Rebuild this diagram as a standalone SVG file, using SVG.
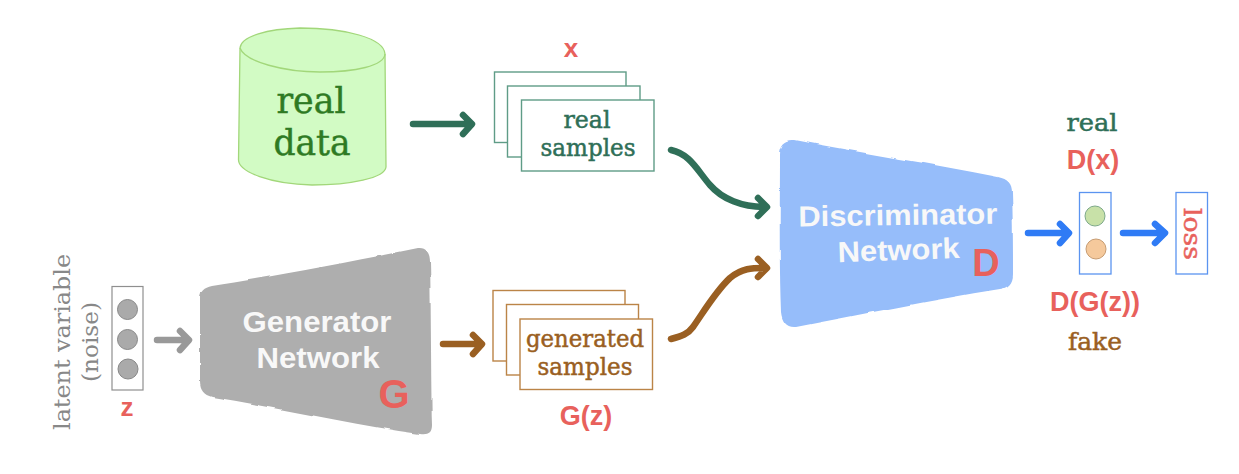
<svg xmlns="http://www.w3.org/2000/svg" width="1239" height="474" viewBox="0 0 1239 474">
<defs>
<filter id="rough" x="-5%" y="-5%" width="110%" height="110%">
<feTurbulence type="fractalNoise" baseFrequency="0.035" numOctaves="2" seed="4"/>
<feDisplacementMap in="SourceGraphic" scale="4" xChannelSelector="R" yChannelSelector="G"/>
</filter>
</defs>
<style>
.t{font-family:"DejaVu Serif","Liberation Serif",serif;text-anchor:middle;font-stretch:condensed;stroke-width:.45px;paint-order:stroke}
.s{font-family:"Liberation Sans",Arial,sans-serif;font-weight:700;text-anchor:middle}
.r{fill:#e8615c}
.w{fill:#f8f8f8}
.gr{fill:#2f6f58;stroke:#2f6f58}
.br{fill:#9a5f22;stroke:#9a5f22}
.a{fill:none;stroke-width:6.500;stroke-linecap:round;stroke-linejoin:round}
.card-g{fill:#fff;stroke:#5f9c87;stroke-width:1.400}
.card-b{fill:#fff;stroke:#bb8447;stroke-width:1.400}
</style>
<g id="real-data">
<path d="M240 48C241 36 268 29 300 28C345 28 384 38 385 54L386 167C385 178 350 185 312 185C270 184 239 172 238.500 160Z" fill="#d2fbc4" stroke="#a2d77a" stroke-width="1.300"/>
<path d="M240 48C245 62 285 72 320 72C355 72 384 66 385 54" fill="none" stroke="#a2d77a" stroke-width="1.300"/>
<text class="t" x="311" y="113" font-size="35" fill="#2e7a23" stroke="#2e7a23" textLength="69" lengthAdjust="spacingAndGlyphs">real</text>
<text class="t" x="312" y="155" font-size="35" fill="#2e7a23" stroke="#2e7a23" textLength="77" lengthAdjust="spacingAndGlyphs">data</text>
</g>
<g id="real-samples">
<rect class="card-g" x="494.500" y="72" width="131.500" height="70.500"/>
<rect class="card-g" x="507.500" y="86" width="132.500" height="71"/>
<rect class="card-g" x="521.500" y="100" width="132.500" height="71"/>
<text class="t gr" x="587" y="128" font-size="24" textLength="47" lengthAdjust="spacingAndGlyphs">real</text>
<text class="t gr" x="588" y="156" font-size="24" textLength="95" lengthAdjust="spacingAndGlyphs">samples</text>
<text class="s r" x="571" y="57" font-size="26">x</text>
</g>
<g id="noise">
<text class="t" transform="translate(70 342) rotate(-90)" font-size="23" fill="#888" textLength="176" lengthAdjust="spacingAndGlyphs">latent variable</text>
<text class="t" transform="translate(98 342) rotate(-90)" font-size="23" fill="#888" textLength="80" lengthAdjust="spacingAndGlyphs">(noise)</text>
<rect x="112" y="286.500" width="31" height="103.500" fill="#fff" stroke="#8f8f8f" stroke-width="1.200"/>
<circle cx="127.500" cy="309.500" r="10" fill="#aaa" stroke="#888" stroke-width="1"/>
<circle cx="127.500" cy="339.500" r="10" fill="#aaa" stroke="#888" stroke-width="1"/>
<circle cx="128" cy="369" r="10" fill="#aaa" stroke="#888" stroke-width="1"/>
<text class="s r" x="127" y="416" font-size="26">z</text>
</g>
<g id="generator">
<path filter="url(#rough)" d="M212 286C270 277 350 262 418 248C427 247 430 254 430 262C431 300 431 380 432 425C432 433 428 435 420 434C350 424 280 408 212 397C204 395 200 390 200 382L200 298C200 291 204 288 212 286Z" fill="#aeaeae"/>
<text class="s w" x="317" y="332" font-size="29" textLength="149" lengthAdjust="spacingAndGlyphs">Generator</text>
<text class="s w" x="318" y="368" font-size="29" textLength="123" lengthAdjust="spacingAndGlyphs">Network</text>
<text class="s r" x="394" y="408" font-size="40">G</text>
</g>
<g id="generated-samples">
<rect class="card-b" x="493" y="290.500" width="132" height="70.500"/>
<rect class="card-b" x="506.500" y="304.500" width="132" height="70.500"/>
<rect class="card-b" x="520" y="319" width="132.500" height="70.500"/>
<text class="t br" x="585" y="347" font-size="24" textLength="118" lengthAdjust="spacingAndGlyphs">generated</text>
<text class="t br" x="585" y="375" font-size="24" textLength="95" lengthAdjust="spacingAndGlyphs">samples</text>
<text class="s r" x="586" y="425" font-size="27">G(z)</text>
</g>
<g id="discriminator">
<path filter="url(#rough)" d="M795 140C860 153 930 163 998 177C1008 179 1012 184 1012 192C1013 220 1013 250 1013 274C1013 283 1008 288 1000 289C930 300 860 315 796 327C787 328 782 322 781 312C779 260 780 200 780 155C780 144 786 139 795 140Z" fill="#96bdfa"/>
<text class="s w" transform="translate(898 225) rotate(-.8)" font-size="29" textLength="199" lengthAdjust="spacingAndGlyphs">Discriminator</text>
<text class="s w" transform="translate(899 260) rotate(-2)" font-size="29" textLength="122" lengthAdjust="spacingAndGlyphs">Network</text>
<text class="s r" x="986" y="276" font-size="38">D</text>
</g>
<g id="output">
<text class="t gr" x="1092" y="131" font-size="24" textLength="51" lengthAdjust="spacingAndGlyphs">real</text>
<text class="s r" x="1093" y="169" font-size="27">D(x)</text>
<rect x="1079.500" y="192.500" width="31.500" height="81.500" fill="#fff" stroke="#5b94f0" stroke-width="1.300"/>
<circle cx="1095" cy="216" r="10" fill="#c8e1a8" stroke="#7ea98a" stroke-width="1"/>
<circle cx="1096" cy="249" r="10" fill="#f5c99c" stroke="#c79c72" stroke-width="1"/>
<text class="s r" x="1095" y="311" font-size="27">D(G(z))</text>
<text class="t br" x="1095" y="350" font-size="24" textLength="54" lengthAdjust="spacingAndGlyphs">fake</text>
</g>
<g id="loss">
<rect x="1176" y="192.500" width="31.500" height="81.500" fill="#fff" stroke="#5b94f0" stroke-width="1.300"/>
<text class="t r" stroke="#e8615c" transform="translate(1184 234) rotate(90)" font-size="24" textLength="52" lengthAdjust="spacingAndGlyphs">loss</text>
</g>
<g id="connectors">
<g stroke="#2f6f58" class="a">
<path d="M413 124H471M463 115L472 124L463 134"/>
<path d="M671 150C690 154 697 170 710 185C722 199 742 207 765 207M758 198L767 207L758 216"/>
</g>
<g stroke="#999" class="a">
<path d="M157 340H188M180 331L189 340L180 350"/>
</g>
<g stroke="#9a5f22" class="a">
<path d="M443 344H481M473 335L482 344L473 354"/>
<path d="M671 339C682 336 688 334 693 327C703 313 715 292 730 278C742 268 752 268 765 268M758 259L767 268L758 277"/>
</g>
<g stroke="#2f7bf5" class="a">
<path d="M1028 233H1068M1060 224L1069 233L1060 243"/>
<path d="M1123 233H1164M1155 224L1165 233L1155 243"/>
</g>
</g>
</svg>
